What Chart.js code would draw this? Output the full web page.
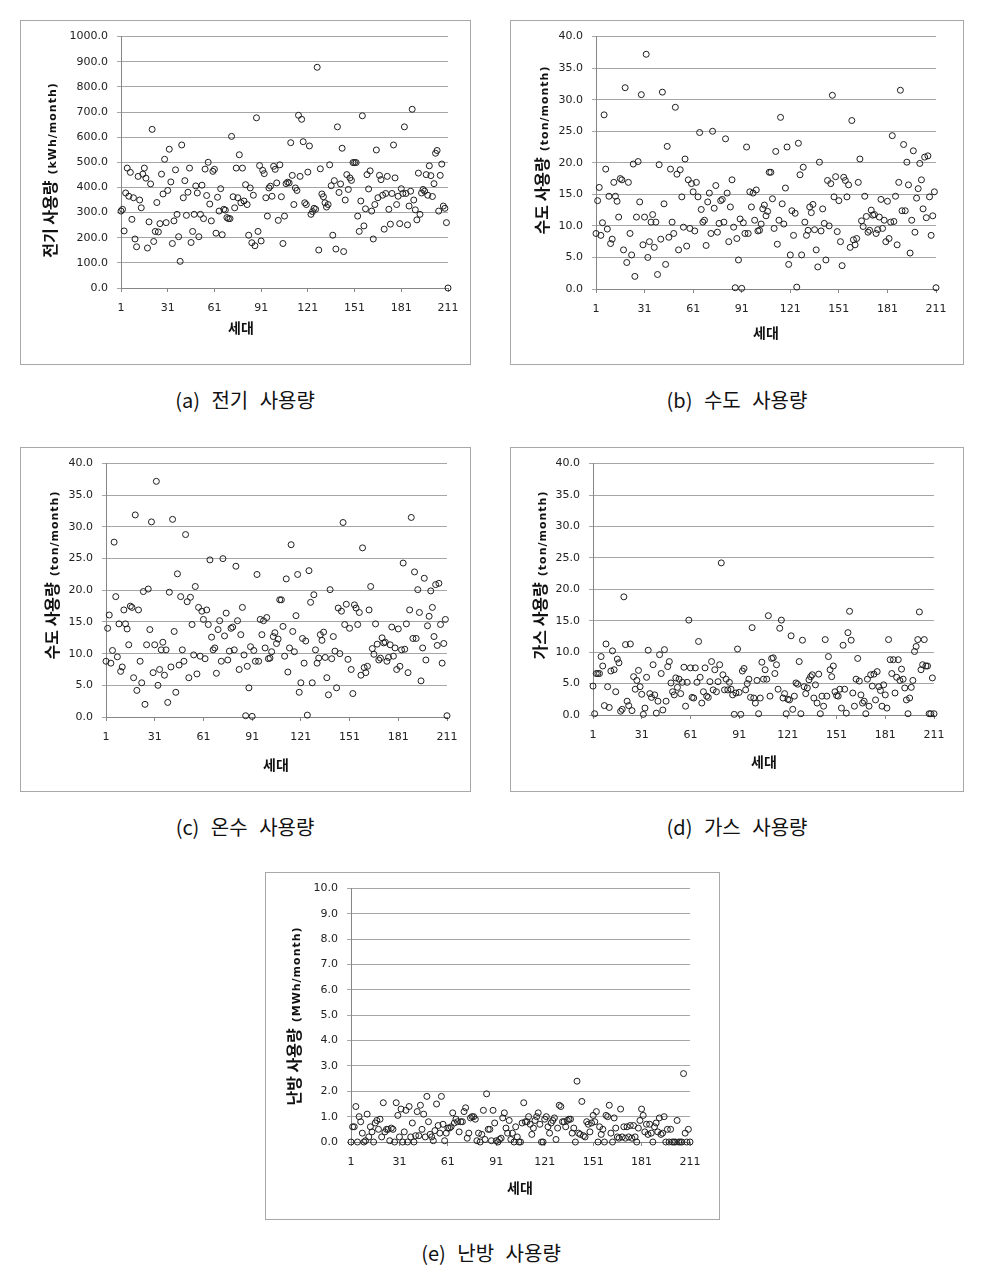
<!DOCTYPE html>
<html>
<head>
<meta charset="utf-8">
<script src="https://cdn.jsdelivr.net/npm/chart.js@4.4.0/dist/chart.umd.min.js"></script>
<style>
  body { margin: 0; background: #fff; }
  #page { position: relative; width: 1000px; height: 1281px; }
  .panel { position: absolute; border: 1px solid #a8a8a8; box-sizing: border-box; background: #fff; }
  .panel canvas { position: absolute; left: 0; top: 0; }
  .caption { position: absolute; width: 300px; text-align: center; font-family: "Noto Sans CJK KR"; font-size: 20px; line-height: 26px; word-spacing: 7px; color: #111; }
</style>
</head>
<body>
<div id="page"></div>
<script>
// household numbers on the x axis
const householdIds = Array.from({ length: 211 }, (_, i) => i + 1);
const xTickValues = [1, 31, 61, 91, 121, 151, 181, 211];

// (a) electricity, kWh/month
const electricValues = [
  306,313,227,378,477,365,460,273,359,195,
  164,444,350,319,453,477,437,159,263,414,
  631,185,225,340,223,256,453,374,512,260,
  388,552,422,177,267,470,293,204,106,569,
  359,427,289,381,477,181,225,293,406,378,
  204,293,409,276,473,368,500,334,267,464,
  472,218,361,306,395,212,313,310,280,276,
  276,603,363,319,477,359,530,339,477,346,
  411,332,210,398,180,369,168,677,225,487,
  187,468,455,359,286,398,405,365,484,472,
  418,269,490,363,177,286,415,421,418,578,
  448,332,398,388,687,444,671,582,339,332,
  461,565,293,304,317,313,878,151,474,374,
  363,339,322,332,490,407,210,427,155,641,
  380,414,556,145,350,451,392,438,428,499,
  499,499,286,225,346,685,247,315,451,394,
  466,306,195,332,549,359,448,431,369,234,
  376,444,313,254,376,569,438,332,365,256,
  395,376,641,376,251,326,385,711,350,311,
  271,457,293,378,392,385,451,369,486,447,
  364,415,536,547,306,448,493,326,317,260,0
];

// (b) water, ton/month
const waterValues = [
  8.8,14.0,16.1,8.5,10.5,27.6,19.0,9.5,14.7,7.2,
  7.9,16.9,14.7,13.9,11.4,17.5,17.3,6.2,31.9,4.2,
  16.9,8.8,5.4,19.8,2.0,11.4,20.2,13.8,30.8,7.0,
  11.4,37.2,5.0,7.5,10.6,11.8,6.6,10.6,2.3,19.7,
  7.9,31.2,13.5,3.9,22.6,8.2,19.0,10.6,8.8,28.8,
  18.2,6.2,18.9,14.6,9.8,20.6,6.8,17.3,9.6,16.7,
  15.4,9.2,16.9,14.6,24.8,12.6,10.6,10.9,6.9,13.8,
  15.2,8.8,25.0,12.8,16.4,9.0,10.4,14.0,14.2,10.6,
  23.8,15.2,7.5,13.0,17.3,9.8,0.2,8.0,4.6,11.1,
  0.1,10.5,8.8,22.5,8.8,15.4,13.0,15.2,10.9,15.7,
  9.2,9.3,10.3,12.7,13.3,11.6,12.3,18.5,18.5,14.3,
  9.6,21.8,7.1,10.9,27.2,13.5,10.3,16.0,22.5,3.9,
  5.4,12.4,8.5,12.0,0.3,23.1,18.1,5.4,19.3,10.6,
  8.5,9.3,13.0,12.1,13.4,9.4,6.2,3.5,20.1,9.2,
  12.7,10.4,4.6,17.2,10.0,16.7,30.7,14.6,17.8,9.1,
  14.0,7.5,3.7,17.7,17.2,14.6,16.5,6.6,26.7,7.8,
  7.0,8.0,16.9,20.6,10.8,9.9,14.7,11.5,9.0,9.3,
  12.5,11.7,11.8,8.8,9.4,11.4,14.2,9.6,10.9,7.5,
  13.9,8.0,10.6,24.3,10.7,14.7,7.0,16.9,31.5,12.4,
  22.9,12.4,20.1,16.5,5.7,10.9,21.9,9.0,14.4,15.9,
  19.9,17.3,12.7,20.9,11.3,21.1,14.6,8.5,11.6,15.4,0.2
];

// (c) hot water: the published panel shows the same points as (b)
const hotWaterValues = waterValues;

// (d) gas
const gasValues = [
  4.6,0.2,6.6,6.6,6.6,9.3,7.8,1.5,11.3,4.5,
  1.2,7.0,10.2,7.2,3.7,8.9,8.3,0.6,0.9,18.8,
  11.2,2.2,1.5,11.3,0.7,6.1,4.1,5.5,7.1,4.5,
  3.3,0.1,1.1,6.0,10.3,3.4,2.8,8.0,3.2,0.3,
  2.2,9.6,6.6,0.8,10.4,2.2,7.7,8.5,5.1,3.7,
  3.2,5.9,4.4,5.7,3.4,5.2,7.6,1.4,5.2,15.1,
  7.5,2.8,2.7,7.5,5.2,11.7,6.0,1.9,3.7,7.5,
  3.0,2.8,5.3,8.5,4.0,7.2,3.7,5.3,8.0,24.2,
  6.4,4.0,5.7,4.0,5.2,4.1,3.2,0.1,3.5,10.5,
  3.6,0.1,7.0,7.4,4.0,5.0,5.7,2.8,13.9,2.7,
  1.9,5.5,0.2,2.7,8.4,5.7,7.2,5.7,15.8,3.0,
  9.0,9.1,6.6,8.0,4.1,13.8,15.1,2.7,3.4,0.2,
  2.5,2.4,12.6,0.9,3.0,5.1,4.9,8.5,0.2,11.9,
  4.5,3.4,4.3,5.6,6.1,6.4,2.7,4.8,1.9,6.5,
  0.2,3.0,1.4,12.0,3.0,9.3,7.2,6.1,7.8,3.7,
  3.1,3.0,4.1,1.1,11.1,4.1,0.3,13.1,16.5,11.9,
  3.5,1.4,5.7,9.0,5.4,3.2,1.9,2.2,0.2,5.7,
  1.4,6.4,4.6,6.5,2.4,6.9,4.5,3.9,1.4,4.8,
  3.2,1.1,12.0,8.8,6.6,8.8,3.5,6.0,8.8,5.5,
  7.3,5.7,4.3,2.4,0.2,2.7,4.4,5.5,10.1,10.9,
  12.0,16.4,7.2,8.0,12.0,7.8,7.8,0.2,0.2,5.9,0.2
];

// (e) heating, MWh/month
const heatValues = [
  0.0,0.6,0.6,1.4,0.0,1.0,0.8,0.35,0.0,0.05,
  1.1,0.2,0.6,0.4,0.0,0.75,0.85,0.5,0.9,0.2,
  1.55,0.4,0.5,0.5,0.05,0.55,0.5,0.0,1.55,1.05,
  0.2,1.3,0.0,0.4,1.25,0.0,1.4,0.2,0.75,0.0,
  0.25,1.2,0.25,1.45,0.5,1.1,0.2,1.8,0.8,0.3,
  0.2,0.05,0.45,1.5,0.65,0.35,1.8,0.7,0.05,0.35,
  0.55,0.55,0.6,1.15,0.75,0.9,0.8,0.4,0.8,0.8,
  1.2,1.35,0.15,0.35,0.95,1.0,1.0,0.9,0.05,0.35,
  0.0,0.3,1.25,0.1,1.9,0.5,0.5,0.05,1.25,0.75,
  0.05,0.0,0.1,0.15,0.95,1.15,0.55,0.35,0.85,0.1,
  0.35,
  0.0,0.6,0.2,0.0,0.0,0.75,1.55,0.8,0.8,1.0,
  0.7,0.3,0.55,0.85,1.0,1.15,0.7,0.0,0.0,0.9,
  1.0,0.6,0.35,0.75,0.85,0.95,0.1,0.55,1.45,1.4,
  0.8,0.8,0.6,0.85,0.9,0.9,0.35,0.55,0.0,2.4,0.35,
  0.3,1.6,0.25,0.2,0.8,0.7,0.4,0.75,1.05,0.8,
  1.2,0.0,0.6,0.3,0.5,0.0,1.05,1.0,1.45,0.35,
  0.0,0.95,0.55,0.2,0.15,1.3,0.2,0.6,0.15,0.6,
  0.2,0.65,0.15,0.65,0.2,0.0,0.55,0.85,1.3,1.05,
  0.4,0.7,0.3,0.7,0.35,0.0,0.6,0.75,0.4,0.95,
  0.3,0.35,1.0,0.0,0.5,0.0,0.5,0.0,0.0,0.0,
  0.85,0.0,0.0,0.0,2.7,0.35,0.0,0.5,0.0
];

// panel layout: box = outer frame [x, y, w, h], plot = chart area [left, top, right, bottom] (page px)
const panels = [
  { box: [20, 20, 451, 345], plot: [121, 34, 448, 288], values: electricValues, yMax: 1000, yStep: 100,
    yMain: '전기 사용량', yUnit: '(kWh/month)', yTitle: [50, 170], xTitle: [241, 328],
    caption: '(a) 전기 사용량', cap: [245, 400] },
  { box: [510, 20, 454, 345], plot: [596, 35, 936, 289], values: waterValues, yMax: 40, yStep: 5,
    yMain: '수도 사용량', yUnit: '(ton/month)', yTitle: [542, 150], xTitle: [766, 333],
    caption: '(b) 수도 사용량', cap: [737, 400] },
  { box: [20, 447, 451, 345], plot: [106, 463, 447, 717], values: hotWaterValues, yMax: 40, yStep: 5,
    yMain: '수도 사용량', yUnit: '(ton/month)', yTitle: [52, 575], xTitle: [276, 765],
    caption: '(c) 온수 사용량', cap: [245, 827] },
  { box: [510, 447, 454, 345], plot: [593, 463, 934, 715], values: gasValues, yMax: 40, yStep: 5,
    yMain: '가스 사용량', yUnit: '(ton/month)', yTitle: [540, 575], xTitle: [764, 762],
    caption: '(d) 가스 사용량', cap: [737, 827] },
  { box: [265, 872, 455, 348], plot: [351, 888, 690, 1142], values: heatValues, yMax: 10, yStep: 1,
    yMain: '난방 사용량', yUnit: '(MWh/month)', yTitle: [294, 1016], xTitle: [520, 1188],
    caption: '(e) 난방 사용량', cap: [491, 1253] }
];

// rotated two-part y title and the x title drawn on the canvas
const axisTitles = {
  id: 'axisTitles',
  afterDraw(chart, args, o) {
    const ctx = chart.ctx;
    ctx.save();
    ctx.fillStyle = '#111';
    ctx.font = 'bold 14px "Noto Sans CJK KR"';
    ctx.textAlign = 'center';
    ctx.textBaseline = 'middle';
    ctx.fillText('세대', o.xTitle[0], o.xTitle[1]);

    const mainFont = 'bold 16px "Noto Sans CJK KR"';
    const unitFont = 'bold 11px "DejaVu Sans"';
    ctx.translate(o.yTitle[0], o.yTitle[1]);
    ctx.rotate(-Math.PI / 2);
    ctx.textAlign = 'left';
    ctx.textBaseline = 'alphabetic';
    ctx.font = mainFont;
    const wMain = ctx.measureText(o.yMain).width;
    ctx.font = unitFont;
    ctx.letterSpacing = '1px';
    const wUnit = ctx.measureText(o.yUnit).width;
    const gap = 6;
    const start = -(wMain + gap + wUnit) / 2;
    ctx.fillText(o.yUnit, start + wMain + gap, 6);
    ctx.letterSpacing = '0px';
    ctx.font = mainFont;
    ctx.fillText(o.yMain, start, 6);
    ctx.restore();
  }
};

const page = document.getElementById('page');
const tickFont = { family: 'DejaVu Sans', size: 11 };

panels.forEach(p => {
  const div = document.createElement('div');
  div.className = 'panel';
  div.style.left = p.box[0] + 'px';
  div.style.top = p.box[1] + 'px';
  div.style.width = p.box[2] + 'px';
  div.style.height = p.box[3] + 'px';
  const canvas = document.createElement('canvas');
  const cw = p.box[2] - 2, ch = p.box[3] - 2;
  canvas.width = cw;
  canvas.height = ch;
  div.appendChild(canvas);
  page.appendChild(div);

  const cap = document.createElement('div');
  cap.className = 'caption';
  cap.textContent = p.caption;
  cap.style.left = (p.cap[0] - 150) + 'px';
  cap.style.top = (p.cap[1] - 13) + 'px';
  page.appendChild(cap);

  const ox = p.box[0] + 1, oy = p.box[1] + 1;
  const left = p.plot[0] - ox, top = p.plot[1] - oy;
  const right = p.plot[2] - ox, bottom = p.plot[3] - oy;

  new Chart(canvas, {
    type: 'scatter',
    data: {
      datasets: [{
        data: householdIds.map((h, i) => ({ x: h, y: p.values[i] })),
        pointRadius: 3,
        pointHoverRadius: 3,
        borderWidth: 1,
        borderColor: '#1e1e1e',
        backgroundColor: 'rgba(0,0,0,0)',
        clip: false
      }]
    },
    options: {
      responsive: false,
      animation: false,
      devicePixelRatio: 1,
      events: [],
      layout: { padding: { left: 0, top: top, right: cw - right, bottom: 0 } },
      plugins: {
        legend: { display: false },
        tooltip: { enabled: false },
        axisTitles: {
          yMain: p.yMain, yUnit: p.yUnit,
          yTitle: [p.yTitle[0] - ox, p.yTitle[1] - oy],
          xTitle: [p.xTitle[0] - ox, p.xTitle[1] - oy]
        }
      },
      scales: {
        x: {
          type: 'linear', min: 1, max: 211,
          afterBuildTicks: s => { s.ticks = xTickValues.map(v => ({ value: v })); },
          afterFit: s => { s.height = ch - bottom; },
          grid: { drawOnChartArea: false, drawTicks: true, tickLength: 4, color: '#868686' },
          border: { color: '#868686' },
          ticks: { font: tickFont, color: '#222', padding: 10, maxRotation: 0, autoSkip: false }
        },
        y: {
          min: 0, max: p.yMax,
          afterFit: s => { s.width = left; },
          grid: { color: '#a6a6a6', tickLength: 4 },
          border: { color: '#868686' },
          ticks: { stepSize: p.yStep, font: tickFont, color: '#222', padding: 9,
                   callback: v => Number(v).toFixed(1) }
        }
      }
    },
    plugins: [axisTitles]
  });
});
</script>
</body>
</html>
